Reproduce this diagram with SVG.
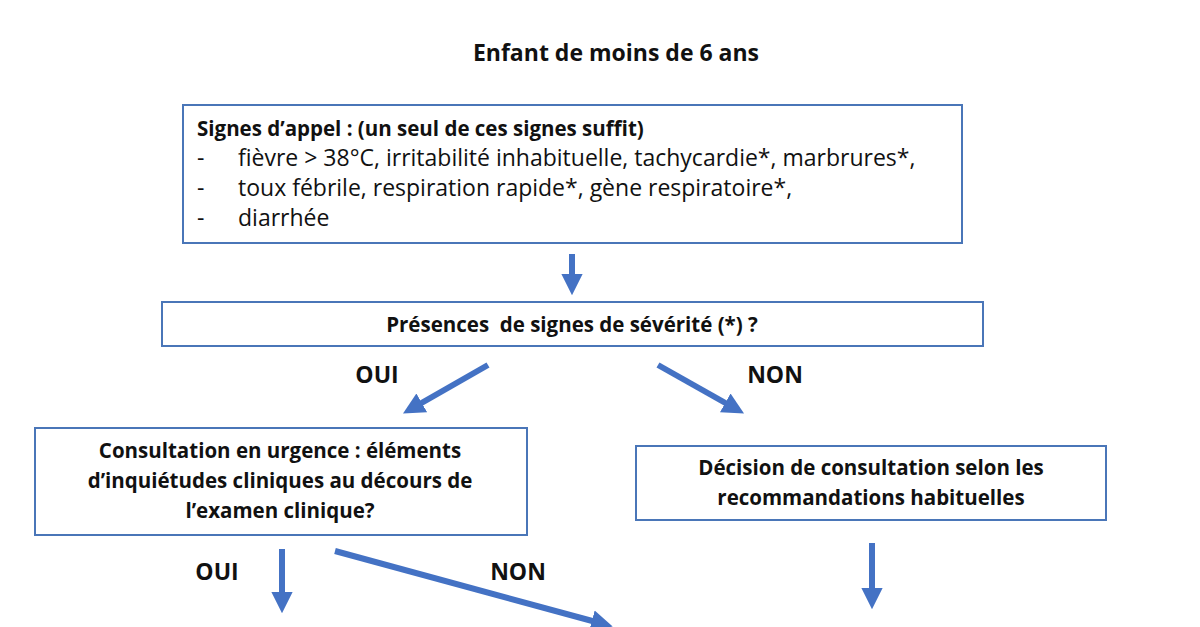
<svg xmlns="http://www.w3.org/2000/svg" width="1200" height="627" viewBox="0 0 1200 627">
<style>
.box{fill:#fff;stroke:#4a76b8;stroke-width:2}
.t{font-family:"Open Sans","Liberation Sans",sans-serif;font-size:23px;fill:#111}
.b{font-weight:bold}
.nb{font-weight:bold;font-size:20.5px}
.arr{stroke:#4472c4;stroke-width:6;fill:none;marker-end:url(#ah)}
</style>
<defs><marker id="ah" viewBox="0 0 10 10" refX="2" refY="5" markerWidth="3.6" markerHeight="4" orient="auto"><path d="M0,0 L10,5 L0,10 z" fill="#4472c4"/></marker></defs>
<rect width="1200" height="627" fill="#fff"/>
<text class="t b" x="616" y="61" text-anchor="middle" font-size="25">Enfant de moins de 6 ans</text>
<g id="n1"><rect class="box" x="183" y="105" width="779" height="138"/>
<text class="t nb" x="197" y="136">Signes d’appel : (un seul de ces signes suffit)</text>
<text class="t" x="197" y="166">-</text><text class="t" x="238" y="166">fièvre &gt; 38°C, irritabilité inhabituelle, tachycardie*, marbrures*,</text>
<text class="t" x="197" y="196">-</text><text class="t" x="238" y="196">toux fébrile, respiration rapide*, gène respiratoire*,</text>
<text class="t" x="197" y="226">-</text><text class="t" x="238" y="226">diarrhée</text></g>
<g id="n2"><rect class="box" x="162" y="302" width="821" height="44"/>
<text class="t nb" x="572" y="332" text-anchor="middle" xml:space="preserve">Présences  de signes de sévérité (*) ?</text></g>
<g id="n3"><rect class="box" x="35" y="428" width="492" height="107"/>
<text class="t nb" x="280" y="458" text-anchor="middle">Consultation en urgence : éléments</text>
<text class="t nb" x="280" y="488" text-anchor="middle">d’inquiétudes cliniques au décours de</text>
<text class="t nb" x="280" y="518" text-anchor="middle">l’examen clinique?</text></g>
<g id="n4"><rect class="box" x="636" y="446" width="470" height="74"/>
<text class="t nb" x="871" y="475" text-anchor="middle">Décision de consultation selon les</text>
<text class="t nb" x="871" y="505" text-anchor="middle">recommandations habituelles</text></g>
<g id="labels">
<text class="t b" x="377" y="383" text-anchor="middle" font-size="25">OUI</text>
<text class="t b" x="775" y="383" text-anchor="middle" font-size="25">NON</text>
<text class="t b" x="217" y="580" text-anchor="middle" font-size="25">OUI</text>
<text class="t b" x="518" y="580" text-anchor="middle" font-size="25">NON</text>
</g>
<g id="connectors">
<line class="arr" x1="572" y1="254" x2="572" y2="278"/>
<line class="arr" x1="488" y1="365" x2="418" y2="405"/>
<line class="arr" x1="658" y1="365" x2="729" y2="405"/>
<line class="arr" x1="282" y1="549" x2="282" y2="596"/>
<line class="arr" x1="335" y1="551" x2="596" y2="622"/>
<line class="arr" x1="872" y1="543" x2="872" y2="592"/>
</g>
</svg>
